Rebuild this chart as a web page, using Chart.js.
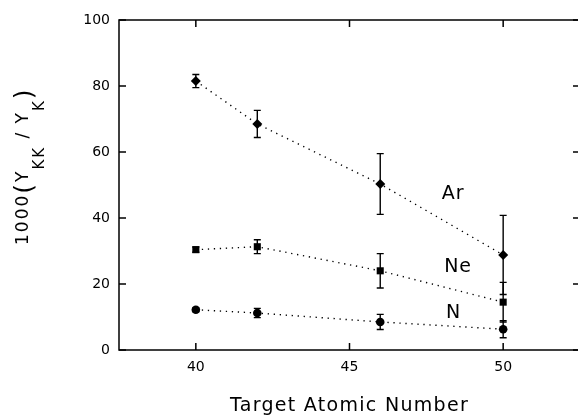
<!DOCTYPE html>
<html>
<head>
<meta charset="utf-8">
<title>KK/K yield ratio vs target Z</title>
<script src="https://cdn.jsdelivr.net/npm/chart.js@4"></script>
<style>
  html, body { margin: 0; padding: 0; background: #fff; overflow: hidden; }
  canvas { display: block; }
</style>
</head>
<body>
<canvas id="ratioChart" width="590" height="415"></canvas>
<script>
// target atomic number
const targetZ = [40, 42, 46, 50];

// 1000 * Y_KK / Y_K per projectile, with error bars
const arRatio = [81.5, 68.5, 50.3, 28.8];
const arError = [2.0, 4.1, 9.2, 12.0];
const neRatio = [30.4, 31.3, 24.0, 14.5];
const neError = [0.8, 2.1, 5.2, 6.0];
const nRatio = [12.2, 11.2, 8.5, 6.3];
const nError = [0.6, 1.4, 2.3, 2.6];

const projectiles = ['Ar', 'Ne', 'N'];

const xTicks = [40, 45, 50];
const yTicks = [0, 20, 40, 60, 80, 100];

const FONT = "'DejaVu Sans', sans-serif";

// where each projectile name sits, in axis units (left, baseline)
const nameAt = { Ar: [48.0, 45.7], Ne: [48.08, 23.7], N: [48.14, 9.8] };

function series(label, values, errors, pointStyle, radius) {
    return {
        label,
        data: targetZ.map((z, i) => ({ x: z, y: values[i] })),
        errors,
        showLine: true,
        borderColor: '#000',
        borderWidth: 1.4,
        borderDash: [1.3, 4.7],
        pointStyle,
        pointRadius: radius,
        pointBackgroundColor: '#000',
        pointBorderColor: '#000',
        pointBorderWidth: 0
    };
}

// vertical error bars with short caps
const errorBars = {
    id: 'errorBars',
    beforeDatasetsDraw(chart) {
        const { ctx, scales: { x, y } } = chart;
        ctx.save();
        ctx.strokeStyle = '#000';
        ctx.lineWidth = 1.4;
        chart.data.datasets.forEach(ds => {
            ds.data.forEach((pt, i) => {
                const e = ds.errors[i];
                const px = x.getPixelForValue(pt.x);
                const top = y.getPixelForValue(pt.y + e);
                const bot = y.getPixelForValue(pt.y - e);
                ctx.beginPath();
                ctx.moveTo(px, top); ctx.lineTo(px, bot);
                ctx.moveTo(px - 3.5, top); ctx.lineTo(px + 3.5, top);
                ctx.moveTo(px - 3.5, bot); ctx.lineTo(px + 3.5, bot);
                ctx.stroke();
            });
        });
        ctx.restore();
    }
};

// closed frame with inward ticks, axis titles and series names
const frame = {
    id: 'frame',
    afterDraw(chart) {
        const { ctx, chartArea: a, scales: { x, y } } = chart;
        const tick = 7;
        ctx.save();
        ctx.strokeStyle = '#000';
        ctx.lineWidth = 1.5;
        ctx.strokeRect(a.left, a.top, a.right - a.left, a.bottom - a.top);
        ctx.beginPath();
        xTicks.forEach(v => {
            const px = x.getPixelForValue(v);
            ctx.moveTo(px, a.bottom); ctx.lineTo(px, a.bottom - tick);
            ctx.moveTo(px, a.top); ctx.lineTo(px, a.top + tick);
        });
        yTicks.forEach(v => {
            const py = y.getPixelForValue(v);
            ctx.moveTo(a.left, py); ctx.lineTo(a.left + tick, py);
            ctx.moveTo(a.right, py); ctx.lineTo(a.right - tick, py);
        });
        ctx.stroke();

        ctx.fillStyle = '#000';

        // x title
        ctx.font = `19px ${FONT}`;
        ctx.letterSpacing = '1.3px';
        ctx.textAlign = 'center';
        ctx.textBaseline = 'alphabetic';
        ctx.fillText('Target Atomic Number', (a.left + a.right) / 2, 411);

        // projectile names
        ctx.textAlign = 'left';
        ctx.letterSpacing = '1px';
        projectiles.forEach(name => {
            const [zx, zy] = nameAt[name];
            ctx.fillText(name, x.getPixelForValue(zx), y.getPixelForValue(zy));
        });

        // y title: 1000(Y_KK / Y_K), rotated
        ctx.translate(28, 245);
        ctx.rotate(-Math.PI / 2);
        ctx.letterSpacing = '2px';
        const parts = [
            ['1000', 17, 0],
            ['(', 25, 4],
            ['Y', 17, 0],
            ['KK', 15, 16],
            [' / ', 17, 0],
            ['Y', 17, 0],
            ['K', 15, 16],
            [')', 25, 4]
        ];
        let cx = 0;
        parts.forEach(([txt, size, dy]) => {
            ctx.font = `${size}px ${FONT}`;
            ctx.fillText(txt, cx, dy);
            cx += ctx.measureText(txt).width;
        });
        ctx.restore();
    }
};

new Chart(document.getElementById('ratioChart'), {
    type: 'scatter',
    data: {
        datasets: [
            series('Ar', arRatio, arError, 'rectRot', 5),
            series('Ne', neRatio, neError, 'rect', 5),
            series('N', nRatio, nError, 'circle', 4.3)
        ]
    },
    options: {
        responsive: false,
        animation: false,
        layout: { padding: { top: 20, right: 10, left: 0, bottom: 0 } },
        plugins: {
            legend: { display: false },
            tooltip: { enabled: false }
        },
        scales: {
            x: {
                type: 'linear',
                min: 37.5,
                max: 52.5,
                afterBuildTicks: s => { s.ticks = xTicks.map(v => ({ value: v })); },
                afterFit: s => { s.height = 65; },
                grid: { display: false, drawTicks: false },
                border: { display: false },
                ticks: { color: '#000', padding: 9, font: { family: FONT, size: 14 } }
            },
            y: {
                min: 0,
                max: 100,
                afterBuildTicks: s => { s.ticks = yTicks.map(v => ({ value: v })); },
                afterFit: s => { s.width = 119; },
                grid: { display: false, drawTicks: false },
                border: { display: false },
                ticks: { color: '#000', padding: 9, font: { family: FONT, size: 14 } }
            }
        }
    },
    plugins: [errorBars, frame]
});
</script>
</body>
</html>
